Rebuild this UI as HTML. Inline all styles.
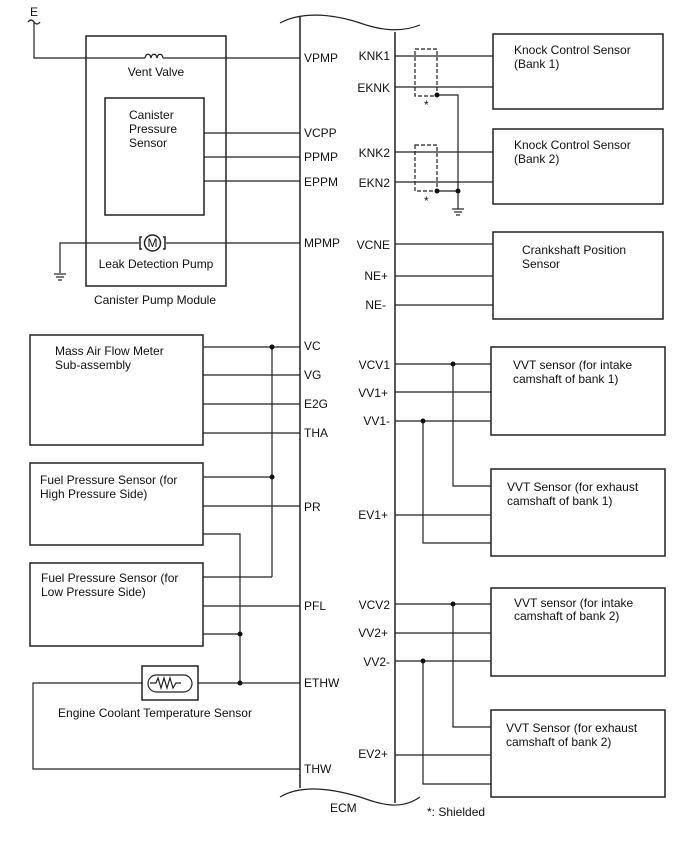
<!DOCTYPE html>
<html><head><meta charset="utf-8"><style>
html,body{margin:0;padding:0;background:#fff;}
svg{display:block;}
text{font-family:"Liberation Sans",Arial,sans-serif;font-size:12px;fill:#111;}
</style></head><body>
<svg width="688" height="852" viewBox="0 0 688 852" xmlns="http://www.w3.org/2000/svg">
<g fill="none" stroke="#222" stroke-width="1.2">
<!-- ECM -->
<path d="M280,23 C300,12 330,13 360,23 C380,30 400,33 420,25" />
<path d="M280,797 C300,785 330,788 360,797 C380,804 400,811 420,797" />
<line x1="300" y1="16" x2="300" y2="788" stroke-width="1.5"/>
<line x1="395" y1="32" x2="395" y2="803" stroke-width="1.5"/>
<!-- E wire -->
<path d="M28,22 q3,-4 6,0 q3,4 6,0"/>
<polyline points="34,22 34,58 145,58"/>
<path d="M145,58 c1,-5 5,-5 6,0 c1,-5 5,-5 6,0 c1,-5 5,-5 6,0"/>
<line x1="163" y1="58" x2="300" y2="58"/>
<!-- canister module -->
<rect x="86" y="36" width="140" height="250" stroke-width="1.5"/>
<rect x="105" y="98" width="99" height="117" stroke-width="1.5"/>
<line x1="204" y1="133" x2="300" y2="133"/>
<line x1="204" y1="157" x2="300" y2="157"/>
<line x1="204" y1="181" x2="300" y2="181"/>
<polyline points="60,273 60,243 139,243"/>
<line x1="166" y1="243" x2="300" y2="243"/>
<line x1="54" y1="274" x2="66" y2="274"/><line x1="56" y1="277" x2="64" y2="277"/><line x1="58" y1="280" x2="62" y2="280"/>
<circle cx="152.5" cy="243" r="8" stroke-width="1.5"/>
<path d="M142,237 l-2,0 0,12 2,0 M163,237 l2,0 0,12 -2,0" stroke-width="1.5"/>
<!-- MAF -->
<rect x="30" y="335" width="173" height="110" stroke-width="1.5"/>
<line x1="203" y1="347" x2="300" y2="347"/>
<line x1="203" y1="375" x2="300" y2="375"/>
<line x1="203" y1="404" x2="300" y2="404"/>
<line x1="203" y1="433" x2="300" y2="433"/>
<line x1="272" y1="347" x2="272" y2="577"/>
<!-- FPS high -->
<rect x="30" y="463" width="173" height="82" stroke-width="1.5"/>
<line x1="203" y1="477" x2="272" y2="477"/>
<line x1="203" y1="506" x2="300" y2="506"/>
<polyline points="203,534 240,534 240,683"/>
<!-- FPS low -->
<rect x="30" y="563" width="173" height="83" stroke-width="1.5"/>
<polyline points="203,577 272,577"/>
<line x1="203" y1="606" x2="300" y2="606"/>
<line x1="203" y1="634" x2="240" y2="634"/>
<!-- ECT -->
<rect x="142" y="666" width="56" height="34" stroke-width="1.5"/>
<rect x="148" y="675" width="44" height="17" rx="8.5"/>
<path d="M150,683 l6,0 2,-5 3,10 3,-10 3,10 3,-10 3,10 3,-5 5,0"/>
<polyline points="142,683 33,683 33,769 300,769"/>
<line x1="198" y1="683" x2="300" y2="683"/>
<!-- knock -->
<rect x="493" y="34" width="170" height="75" stroke-width="1.5"/>
<rect x="493" y="129" width="170" height="75" stroke-width="1.5"/>
<line x1="395" y1="56" x2="493" y2="56"/>
<line x1="395" y1="87" x2="493" y2="87"/>
<line x1="395" y1="152" x2="493" y2="152"/>
<line x1="395" y1="182" x2="493" y2="182"/>
<rect x="415" y="49" width="22" height="47" stroke-dasharray="4,2"/>
<rect x="415" y="145" width="22" height="46" stroke-dasharray="4,2"/>
<polyline points="437,95 458,95 458,209"/>
<line x1="437" y1="191" x2="458" y2="191"/>
<line x1="452" y1="209" x2="464" y2="209"/><line x1="454" y1="212" x2="462" y2="212"/><line x1="456" y1="215" x2="460" y2="215"/>
<!-- crank -->
<rect x="493" y="232" width="170" height="87" stroke-width="1.5"/>
<line x1="395" y1="244" x2="493" y2="244"/>
<line x1="395" y1="276" x2="493" y2="276"/>
<line x1="395" y1="305" x2="493" y2="305"/>
<!-- VVT bank1 -->
<rect x="491" y="347" width="174" height="88" stroke-width="1.5"/>
<rect x="491" y="469" width="174" height="87" stroke-width="1.5"/>
<line x1="395" y1="364" x2="491" y2="364"/>
<line x1="395" y1="392" x2="491" y2="392"/>
<line x1="395" y1="421" x2="491" y2="421"/>
<line x1="395" y1="515" x2="491" y2="515"/>
<polyline points="453,364 453,486 491,486"/>
<polyline points="423,421 423,543 491,543"/>
<!-- VVT bank2 -->
<rect x="491" y="588" width="174" height="88" stroke-width="1.5"/>
<rect x="491" y="710" width="174" height="87" stroke-width="1.5"/>
<line x1="395" y1="604" x2="491" y2="604"/>
<line x1="395" y1="633" x2="491" y2="633"/>
<line x1="395" y1="661" x2="491" y2="661"/>
<line x1="395" y1="755" x2="491" y2="755"/>
<polyline points="453,604 453,727 491,727"/>
<polyline points="423,661 423,784 491,784"/>
</g>
<g fill="#111">
<circle cx="272" cy="347" r="2.5"/><circle cx="272" cy="477" r="2.5"/>
<circle cx="240" cy="634" r="2.5"/><circle cx="240" cy="683" r="2.5"/>
<circle cx="437" cy="95" r="2.5"/><circle cx="437" cy="191" r="2.5"/><circle cx="458" cy="191" r="2.5"/>
<circle cx="453" cy="364" r="2.5"/><circle cx="423" cy="421" r="2.5"/>
<circle cx="453" cy="604" r="2.5"/><circle cx="423" cy="661" r="2.5"/>
</g>
<text x="152.5" y="247" text-anchor="middle" font-size="11">M</text>
<text x="30" y="16">E</text>
<text x="156" y="76" text-anchor="middle">Vent Valve</text>
<text x="129" y="119">Canister</text>
<text x="129" y="133">Pressure</text>
<text x="129" y="147">Sensor</text>
<text x="156" y="268" text-anchor="middle">Leak Detection Pump</text>
<text x="155" y="304" text-anchor="middle">Canister Pump Module</text>
<text x="55" y="355">Mass Air Flow Meter</text>
<text x="55" y="369">Sub-assembly</text>
<text x="40" y="484">Fuel Pressure Sensor (for</text>
<text x="40" y="498">High Pressure Side)</text>
<text x="41" y="582">Fuel Pressure Sensor (for</text>
<text x="41" y="596">Low Pressure Side)</text>
<text x="155" y="717" text-anchor="middle">Engine Coolant Temperature Sensor</text>
<g>
<text x="304" y="62">VPMP</text><text x="304" y="137">VCPP</text><text x="304" y="161">PPMP</text>
<text x="304" y="186">EPPM</text><text x="304" y="247">MPMP</text><text x="304" y="350">VC</text>
<text x="304" y="379">VG</text><text x="304" y="408">E2G</text><text x="304" y="437">THA</text>
<text x="304" y="511">PR</text><text x="304" y="610">PFL</text><text x="304" y="687">ETHW</text>
<text x="304" y="773">THW</text>
</g>
<g text-anchor="end">
<text x="390" y="60">KNK1</text><text x="390" y="92">EKNK</text><text x="390" y="157">KNK2</text>
<text x="390" y="187">EKN2</text><text x="390" y="249">VCNE</text><text x="388" y="280">NE+</text>
<text x="386" y="309">NE-</text><text x="390" y="369">VCV1</text><text x="388" y="397">VV1+</text>
<text x="390" y="425">VV1-</text><text x="388" y="519">EV1+</text><text x="390" y="609">VCV2</text>
<text x="388" y="637">VV2+</text><text x="390" y="666">VV2-</text><text x="388" y="758">EV2+</text>
</g>
<text x="424" y="109" font-size="10">*</text>
<text x="424" y="205" font-size="10">*</text>
<text x="514" y="54">Knock Control Sensor</text>
<text x="514" y="68">(Bank 1)</text>
<text x="514" y="149">Knock Control Sensor</text>
<text x="514" y="163">(Bank 2)</text>
<text x="522" y="254">Crankshaft Position</text>
<text x="522" y="268">Sensor</text>
<text x="513" y="369">VVT sensor (for intake</text>
<text x="513" y="383">camshaft of bank 1)</text>
<text x="507" y="491">VVT Sensor (for exhaust</text>
<text x="507" y="505">camshaft of bank 1)</text>
<text x="514" y="607">VVT sensor (for intake</text>
<text x="514" y="620">camshaft of bank 2)</text>
<text x="506" y="732">VVT Sensor (for exhaust</text>
<text x="506" y="746">camshaft of bank 2)</text>
<text x="330" y="812">ECM</text>
<text x="427" y="816">*: Shielded</text>
</svg>
</body></html>
